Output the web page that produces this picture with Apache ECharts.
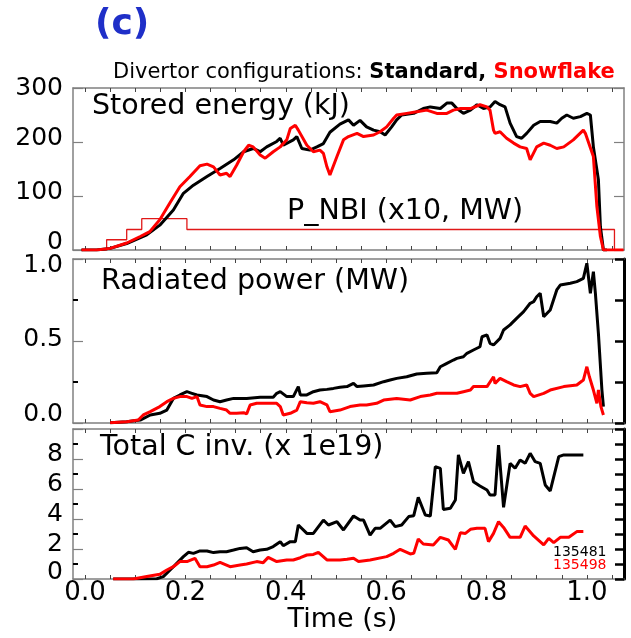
<!DOCTYPE html>
<html>
<head>
<meta charset="utf-8">
<script src="https://cdn.jsdelivr.net/npm/echarts@6/dist/echarts.min.js"></script>
<style>html,body{margin:0;padding:0;background:#fff}#c{width:631px;height:638px}</style>
</head>
<body>
<div id="c"></div>
<script>
// ---- tick labels ----
var xTickValues = [0,0.05,0.1,0.15,0.2,0.25,0.3,0.35,0.4,0.45,0.5,0.55,0.6,0.65,0.7,0.75,0.8,0.85,0.9,0.95,1.0,1.05];
var xLabelValues = [0,0.2,0.4,0.6,0.8,1.0];
var shotNumbers = ['135481','135498'];

// ---- Stored energy (kJ) [time s, kJ] ----
var energyStandard = [[-0.007,0],[0.023,0],[0.050,3],[0.083,12],[0.123,28],[0.149,46],[0.176,74],[0.196,105],[0.216,120],[0.243,136],[0.269,151],[0.296,167],[0.316,182],[0.335,188],[0.349,182],[0.362,191],[0.382,201],[0.389,207],[0.395,194],[0.415,204],[0.422,210],[0.432,188],[0.448,185],[0.462,191],[0.475,197],[0.488,218],[0.508,233],[0.525,241],[0.535,231],[0.548,240],[0.561,228],[0.575,222],[0.588,219],[0.598,213],[0.611,228],[0.621,241],[0.631,250],[0.655,253],[0.674,262],[0.688,265],[0.708,262],[0.721,272],[0.731,272],[0.741,262],[0.754,253],[0.768,259],[0.781,269],[0.794,262],[0.807,265],[0.817,275],[0.827,269],[0.837,265],[0.847,235],[0.860,210],[0.870,207],[0.880,216],[0.894,231],[0.907,238],[0.927,238],[0.940,235],[0.950,244],[0.960,250],[0.973,244],[0.987,247],[1.000,253],[1.007,250],[1.013,191],[1.023,130],[1.027,43],[1.033,0],[1.040,0]];
var energySnowflake = [[-0.007,0],[0.023,0],[0.050,3],[0.083,13],[0.110,25],[0.129,34],[0.149,56],[0.169,87],[0.189,117],[0.209,136],[0.229,156],[0.243,159],[0.256,154],[0.269,139],[0.282,142],[0.289,136],[0.302,157],[0.316,182],[0.326,194],[0.335,191],[0.349,176],[0.359,170],[0.375,182],[0.389,191],[0.402,204],[0.409,225],[0.419,231],[0.425,222],[0.442,194],[0.455,182],[0.468,185],[0.475,179],[0.482,154],[0.488,139],[0.502,173],[0.515,204],[0.525,210],[0.542,216],[0.555,210],[0.575,213],[0.588,219],[0.601,228],[0.615,244],[0.621,250],[0.641,253],[0.661,256],[0.681,259],[0.701,253],[0.721,253],[0.734,259],[0.748,262],[0.768,262],[0.787,269],[0.801,265],[0.807,259],[0.814,222],[0.817,216],[0.827,219],[0.840,207],[0.854,198],[0.867,191],[0.880,188],[0.887,167],[0.890,164],[0.900,191],[0.914,198],[0.927,194],[0.940,188],[0.954,191],[0.973,204],[0.993,222],[0.997,216],[1.013,173],[1.020,80],[1.027,25],[1.033,0],[1.073,0]];
// P_NBI (x10, MW), value starts at given time
var pnbi = [[-0.007,0],[0.043,19],[0.083,38],[0.113,58],[0.203,38],[1.055,0],[1.073,0]];

// ---- Radiated power (MW) ----
var pradStandard = [[0.050,0.002],[0.083,0.008],[0.110,0.018],[0.130,0.049],[0.149,0.059],[0.163,0.079],[0.176,0.150],[0.189,0.171],[0.203,0.191],[0.213,0.181],[0.223,0.171],[0.243,0.161],[0.256,0.140],[0.269,0.130],[0.282,0.140],[0.296,0.150],[0.322,0.150],[0.349,0.157],[0.375,0.157],[0.382,0.181],[0.389,0.191],[0.402,0.161],[0.415,0.161],[0.425,0.222],[0.429,0.171],[0.442,0.171],[0.455,0.191],[0.468,0.201],[0.482,0.205],[0.495,0.211],[0.508,0.218],[0.522,0.222],[0.535,0.242],[0.542,0.222],[0.555,0.226],[0.575,0.232],[0.595,0.252],[0.608,0.262],[0.621,0.272],[0.641,0.282],[0.661,0.299],[0.681,0.303],[0.701,0.307],[0.708,0.343],[0.721,0.364],[0.734,0.384],[0.741,0.394],[0.754,0.404],[0.761,0.425],[0.774,0.445],[0.787,0.465],[0.791,0.526],[0.801,0.537],[0.807,0.486],[0.814,0.476],[0.827,0.516],[0.834,0.567],[0.847,0.598],[0.860,0.638],[0.874,0.679],[0.887,0.730],[0.894,0.740],[0.900,0.770],[0.907,0.791],[0.914,0.648],[0.927,0.689],[0.940,0.811],[0.947,0.841],[0.967,0.852],[0.980,0.862],[0.993,0.882],[1.000,0.974],[1.003,0.984],[1.007,0.791],[1.013,0.923],[1.017,0.791],[1.023,0.547],[1.030,0.201],[1.033,0.100]];
var pradSnowflake = [[0.050,0.002],[0.083,0.008],[0.106,0.018],[0.116,0.049],[0.130,0.069],[0.149,0.100],[0.163,0.130],[0.176,0.150],[0.189,0.161],[0.203,0.161],[0.213,0.150],[0.223,0.161],[0.229,0.110],[0.243,0.100],[0.256,0.100],[0.269,0.089],[0.282,0.079],[0.289,0.059],[0.302,0.059],[0.316,0.063],[0.322,0.055],[0.329,0.110],[0.342,0.120],[0.362,0.120],[0.382,0.120],[0.389,0.100],[0.395,0.049],[0.409,0.059],[0.422,0.079],[0.429,0.130],[0.442,0.124],[0.455,0.120],[0.468,0.130],[0.482,0.110],[0.488,0.069],[0.508,0.079],[0.528,0.100],[0.548,0.110],[0.561,0.110],[0.581,0.120],[0.595,0.140],[0.621,0.150],[0.648,0.140],[0.668,0.161],[0.688,0.171],[0.701,0.181],[0.714,0.181],[0.741,0.181],[0.754,0.191],[0.768,0.201],[0.774,0.222],[0.801,0.222],[0.814,0.282],[0.817,0.242],[0.827,0.272],[0.840,0.252],[0.854,0.232],[0.867,0.222],[0.880,0.232],[0.887,0.181],[0.894,0.161],[0.914,0.181],[0.927,0.201],[0.954,0.222],[0.980,0.232],[0.993,0.262],[1.000,0.343],[1.005,0.282],[1.013,0.201],[1.020,0.120],[1.023,0.201],[1.028,0.100],[1.033,0.049]];

// ---- Total C inventory (x 1e19) ----
var carbonStandard = [[0.056,0],[0.103,0],[0.143,0.02],[0.156,0.16],[0.176,0.82],[0.196,1.49],[0.206,1.78],[0.216,1.71],[0.229,1.87],[0.243,1.87],[0.256,1.76],[0.269,1.82],[0.282,1.82],[0.296,1.93],[0.309,2.04],[0.322,2.09],[0.335,1.82],[0.349,1.93],[0.362,1.98],[0.375,2.16],[0.389,2.49],[0.395,2.22],[0.409,2.49],[0.419,2.49],[0.425,3.6],[0.442,3.04],[0.455,3.04],[0.475,3.93],[0.485,3.6],[0.502,3.82],[0.515,3.27],[0.535,4.2],[0.548,3.93],[0.555,3.93],[0.568,2.93],[0.578,3.38],[0.588,3.38],[0.608,3.93],[0.618,3.49],[0.631,3.6],[0.645,4.16],[0.655,4.22],[0.664,5.44],[0.678,4.27],[0.688,4.2],[0.698,7.49],[0.708,7.38],[0.714,4.64],[0.728,4.71],[0.738,5.27],[0.744,8.27],[0.754,7.04],[0.764,7.82],[0.774,6.49],[0.787,6.2],[0.801,5.93],[0.807,5.6],[0.817,5.6],[0.824,8.93],[0.834,4.78],[0.847,7.71],[0.857,7.38],[0.867,7.93],[0.877,7.71],[0.887,8.38],[0.897,7.82],[0.907,7.71],[0.917,6.27],[0.927,5.87],[0.944,8.16],[0.954,8.27],[0.993,8.27]];
var carbonSnowflake = [[0.056,0],[0.096,0],[0.123,0.16],[0.149,0.31],[0.163,0.6],[0.176,0.82],[0.189,1.16],[0.203,1.16],[0.219,1.38],[0.229,0.82],[0.243,0.82],[0.256,0.93],[0.269,1.11],[0.289,0.82],[0.309,0.93],[0.322,1.0],[0.342,1.16],[0.355,1.09],[0.365,1.44],[0.382,1.16],[0.402,1.27],[0.415,1.27],[0.429,1.42],[0.442,1.6],[0.455,1.64],[0.465,1.78],[0.482,1.27],[0.508,1.27],[0.522,1.31],[0.535,1.38],[0.545,1.16],[0.568,1.27],[0.601,1.49],[0.615,1.71],[0.628,1.98],[0.648,1.67],[0.655,1.71],[0.664,2.67],[0.674,2.33],[0.694,2.27],[0.708,2.78],[0.724,2.6],[0.738,1.98],[0.748,3.09],[0.758,3.04],[0.768,3.31],[0.781,3.38],[0.797,3.38],[0.804,2.49],[0.814,3.04],[0.824,3.82],[0.834,3.44],[0.847,2.78],[0.867,2.78],[0.877,3.53],[0.894,2.87],[0.914,2.27],[0.924,2.71],[0.934,2.42],[0.947,2.78],[0.964,2.78],[0.980,3.16],[0.993,3.16]];

var FF = 'DejaVu Sans';
var RED = '#ff0000';
var AX = '#808080';

var rich = {
  u0:{fontSize:25,fontFamily:FF,color:'#000'},
  u2:{fontSize:25,fontFamily:FF,color:'#000',padding:[0,0,4,0]},
  u4:{fontSize:25,fontFamily:FF,color:'#000',padding:[0,0,8,0]},
  u5:{fontSize:25,fontFamily:FF,color:'#000',padding:[0,0,10,0]},
  u7:{fontSize:25,fontFamily:FF,color:'#000',padding:[0,0,14,0]},
  u8:{fontSize:25,fontFamily:FF,color:'#000',padding:[0,0,16,0]},
  u9:{fontSize:25,fontFamily:FF,color:'#000',padding:[0,0,18,0]},
  d6:{fontSize:25,fontFamily:FF,color:'#000',padding:[12,0,0,0]}
};

function xAx(g, pos, labels){
  return {
    type:'value', gridIndex:g, position:pos, min:-0.024, max:1.074,
    axisLine:{show:true,onZero:false,lineStyle:{color:AX,width:1.5}},
    axisTick:{show:true,inside:true,length:4,customValues:xTickValues,lineStyle:{color:'#444',width:1}},
    axisLabel:{show:labels,customValues:xLabelValues,formatter:function(v){return v.toFixed(1);},
      fontSize:26,fontFamily:FF,color:'#000',margin:1},
    splitLine:{show:false},
    name: labels ? 'Time (s)' : '',
    nameLocation:'middle', nameGap:25,
    nameTextStyle:{fontSize:27,fontFamily:FF,color:'#000',padding:[0,12,0,0]}
  };
}
function yLeft(g, max, interval, minorSplit, fmt){
  return {
    type:'value', gridIndex:g, position:'left', min:0, max:max, interval:interval,
    axisLine:{show:true,onZero:false,lineStyle:{color:AX,width:1.5}},
    axisTick:{show:true,inside:true,length:10,lineStyle:{color:AX,width:1.2}},
    minorTick:{show:minorSplit>0,splitNumber:minorSplit||2,length:5,lineStyle:{color:'#000',width:2}},
    axisLabel:{show:true,formatter:fmt,rich:rich,margin:10,showMinLabel:true,showMaxLabel:true,hideOverlap:false},
    splitLine:{show:false}
  };
}
function yRight(g, max, interval, bold){
  return {
    type:'value', gridIndex:g, position:'right', min:0, max:max, interval:interval,
    axisLine:{show:true,onZero:false,lineStyle:{color:bold?'#000':AX,width:bold?3:1.5}},
    axisTick:{show:true,inside:true,length:bold?9:10,lineStyle:{color:bold?'#000':AX,width:bold?2.5:1.2}},
    axisLabel:{show:false},
    splitLine:{show:false}
  };
}
function line(xi, yi, data, color, w, z){
  return {type:'line', xAxisIndex:xi, yAxisIndex:yi, data:data, showSymbol:false, symbol:'none',
    lineStyle:{color:color,width:w}, itemStyle:{color:color}, z:z||2, animation:false, clip:true};
}

function t(text, left, top, size, color, weight){
  return {text:text, left:left, top:top, padding:0,
    textStyle:{fontSize:size, fontFamily:FF, color:color||'#000', fontWeight:weight||'normal'}};
}

var option = {
  animation:false,
  backgroundColor:'#fff',
  title:[
    t('(c)', 95, 7, 36, '#1f2fc8', 'bold'),
    {text:'{n|Divertor configurations: }{b|Standard,}{r| Snowflake}', left:113, top:62, padding:0,
      textStyle:{fontWeight:'normal', rich:{
        n:{fontSize:21,fontFamily:FF,color:'#000',fontWeight:'normal'},
        b:{fontSize:21,fontFamily:FF,color:'#000',fontWeight:'bold'},
        r:{fontSize:21,fontFamily:FF,color:RED,fontWeight:'bold'}}}},
    t('Stored energy (kJ)', 92, 92, 28.5),
    t('P_NBI (x10, MW)', 287, 197, 28.5),
    t('Radiated power (MW)', 101, 267, 28.5),
    t('Total C inv. (x 1e19)', 100, 433, 28.5),
    t(shotNumbers[0], 553, 545, 14, '#000'),
    t(shotNumbers[1], 553, 558, 14, RED)
  ],
  grid:[
    {left:73, top:88, width:551, height:162},
    {left:73, top:259, width:551, height:164},
    {left:73, top:429, width:551, height:150}
  ],
  xAxis:[xAx(0,'bottom',false), xAx(0,'top',false), xAx(1,'bottom',false), xAx(1,'top',false), xAx(2,'bottom',true), xAx(2,'top',false)],
  yAxis:[
    yLeft(0,300,100,0,function(v){ if(v===0) return '{u8|0}'; if(v===300) return '{u0|300}'; return '{u4|'+v+'}'; }),
    yRight(0,300,100,false),
    yLeft(1,1,0.5,2,function(v){ if(v===0) return '{u9|0.0}'; if(v===1) return '{d6|1.0}'; return '{u2|'+v.toFixed(1)+'}'; }),
    yRight(1,1,0.25,true),
    yLeft(2,10,2,2,function(v){ if(v===10) return ''; if(v===0) return '{u7|0}'; return '{u5|'+v+'}'; }),
    yRight(2,10,1,true)
  ],
  series:[
    line(0,0,energyStandard,'#000',3,3),
    line(0,0,energySnowflake,RED,3,4),
    Object.assign(line(0,0,pnbi,'#e01818',1.3,2),{step:'end'}),
    line(2,2,pradStandard,'#000',3,3),
    line(2,2,pradSnowflake,RED,3,4),
    line(4,4,carbonStandard,'#000',3,3),
    line(4,4,carbonSnowflake,RED,3,4)
  ]
};
var chart = echarts.init(document.getElementById('c'), null, {renderer:'canvas'});
chart.setOption(option);
</script>
</body>
</html>
